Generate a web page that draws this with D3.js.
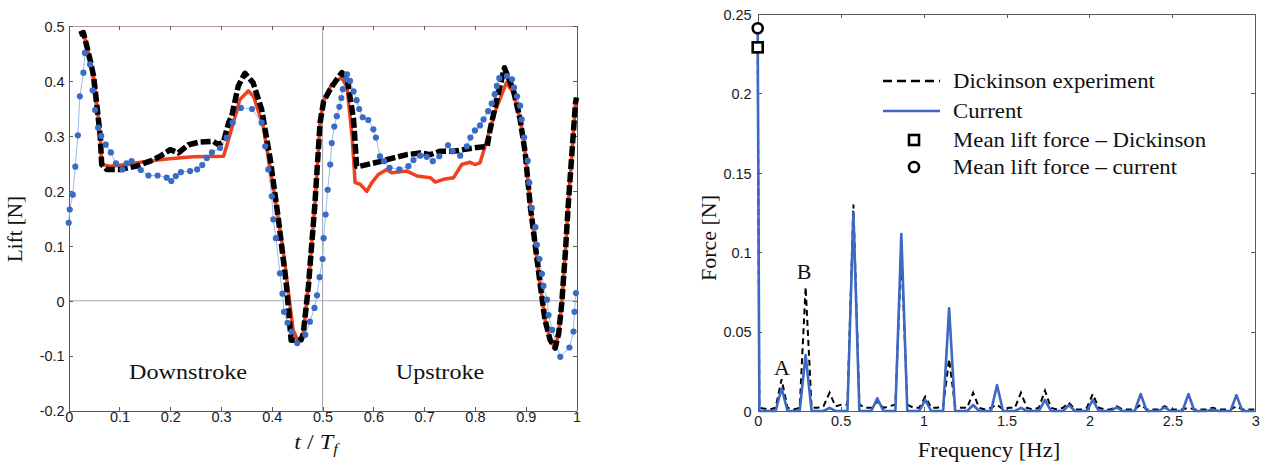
<!DOCTYPE html>
<html lang="en">
	<head>
		<meta charset="utf-8">
		<title>Lift history and spectrum</title>
		<script type="text/javascript" src="https://cdn.jsdelivr.net/npm/d3@7"></script>
		<style type="text/css">
			body { margin: 0; background: #fff; }
			.axis path, .axis line { fill: none; stroke: #5a5a5a; stroke-width: 1; shape-rendering: crispEdges; }
			.axis text { font-family: "Liberation Sans", Arial, sans-serif; font-size: 14.5px; fill: #1a1a1a; }
			.title { font-family: "Liberation Serif", "Times New Roman", serif; fill: #111; }
		</style>
	</head>
	<body>
		<script type="text/javascript">

			//Left chart: lift over one wing beat (t / Tf, N)
			var liftDashed = [
				[0.021,0.485],[0.029,0.488],[0.042,0.439],[0.049,0.409],[0.055,0.36],[0.062,0.30],[0.065,0.248],
				[0.075,0.239],[0.101,0.239],[0.134,0.245],[0.160,0.254],[0.180,0.263],[0.200,0.275],[0.216,0.269],
				[0.236,0.284],[0.259,0.289],[0.285,0.290],[0.295,0.284],[0.305,0.290],[0.315,0.324],[0.321,0.336],
				[0.334,0.391],[0.347,0.414],[0.363,0.397],[0.380,0.348],[0.397,0.257],[0.413,0.148],[0.429,0.026],
				[0.438,-0.072],[0.458,-0.071],[0.462,-0.059],[0.472,0.026],[0.485,0.178],[0.495,0.324],[0.502,0.363],
				[0.515,0.385],[0.528,0.403],[0.538,0.415],[0.548,0.406],[0.561,0.33],[0.567,0.245],[0.574,0.245],
				[0.607,0.252],[0.640,0.260],[0.666,0.266],[0.692,0.269],[0.712,0.266],[0.731,0.272],[0.758,0.272],
				[0.777,0.275],[0.804,0.279],[0.824,0.281],[0.830,0.312],[0.843,0.366],[0.858,0.424],[0.876,0.382],
				[0.889,0.330],[0.899,0.269],[0.909,0.172],[0.919,0.099],[0.929,0.026],[0.938,-0.035],[0.948,-0.071],
				[0.958,-0.086],[0.965,-0.059],[0.971,-0.004],[0.978,0.087],[0.984,0.178],[0.991,0.269],[0.998,0.360],
				[1.000,0.370]
			];

			var liftRed = [
				[0.021,0.485],[0.029,0.488],[0.042,0.439],[0.049,0.409],[0.055,0.36],[0.062,0.30],[0.065,0.248],
				[0.081,0.245],[0.114,0.248],[0.154,0.254],[0.193,0.258],[0.245,0.262],[0.305,0.263],[0.315,0.294],
				[0.337,0.366],[0.354,0.382],[0.364,0.372],[0.383,0.318],[0.403,0.208],[0.423,0.087],[0.442,-0.053],
				[0.452,-0.074],[0.458,-0.071],[0.462,-0.059],[0.472,0.026],[0.485,0.178],[0.495,0.324],[0.502,0.363],
				[0.518,0.394],[0.537,0.406],[0.548,0.39],[0.558,0.30],[0.564,0.215],[0.574,0.212],[0.587,0.199],
				[0.597,0.215],[0.610,0.230],[0.626,0.239],[0.636,0.233],[0.666,0.236],[0.686,0.227],[0.712,0.224],
				[0.722,0.216],[0.738,0.221],[0.758,0.224],[0.774,0.248],[0.790,0.252],[0.800,0.248],[0.810,0.251],
				[0.817,0.272],[0.840,0.345],[0.862,0.397],[0.876,0.378],[0.889,0.330],[0.899,0.269],[0.909,0.172],
				[0.919,0.099],[0.929,0.026],[0.938,-0.035],[0.948,-0.071],[0.958,-0.086],[0.965,-0.059],[0.971,-0.004],
				[0.978,0.087],[0.984,0.178],[0.991,0.269],[0.998,0.360],[1.000,0.370]
			];

			var liftDots = [
				[0.000,0.142],[0.002,0.166],[0.008,0.193],[0.013,0.244],[0.018,0.301],[0.022,0.372],[0.029,0.415],
				[0.032,0.451],[0.042,0.430],[0.047,0.383],[0.052,0.347],[0.058,0.315],[0.064,0.300],[0.073,0.284],
				[0.083,0.270],[0.093,0.250],[0.106,0.239],[0.114,0.250],[0.124,0.254],[0.142,0.238],[0.157,0.228],
				[0.175,0.228],[0.193,0.224],[0.202,0.218],[0.211,0.227],[0.221,0.234],[0.239,0.236],[0.253,0.239],
				[0.263,0.247],[0.272,0.260],[0.282,0.270],[0.298,0.278],[0.311,0.297],[0.323,0.324],[0.339,0.351],
				[0.361,0.349],[0.380,0.324],[0.387,0.281],[0.393,0.239],[0.400,0.190],[0.403,0.148],[0.408,0.114],
				[0.416,0.050],[0.421,0.013],[0.424,-0.020],[0.431,-0.040],[0.439,-0.056],[0.450,-0.077],[0.466,-0.062],
				[0.475,-0.038],[0.484,-0.013],[0.489,0.010],[0.494,0.043],[0.500,0.076],[0.502,0.114],[0.506,0.157],
				[0.510,0.202],[0.515,0.248],[0.518,0.287],[0.523,0.317],[0.528,0.336],[0.533,0.353],[0.537,0.369],
				[0.540,0.385],[0.546,0.403],[0.548,0.412],[0.554,0.400],[0.561,0.381],[0.567,0.365],[0.572,0.349],
				[0.579,0.334],[0.590,0.329],[0.600,0.312],[0.605,0.297],[0.613,0.263],[0.621,0.254],[0.632,0.242],
				[0.651,0.239],[0.669,0.245],[0.679,0.256],[0.692,0.264],[0.705,0.262],[0.717,0.254],[0.730,0.263],
				[0.747,0.283],[0.756,0.272],[0.771,0.264],[0.784,0.281],[0.791,0.297],[0.800,0.310],[0.810,0.319],
				[0.817,0.330],[0.826,0.345],[0.833,0.359],[0.839,0.376],[0.843,0.391],[0.848,0.405],[0.863,0.409],
				[0.873,0.403],[0.877,0.388],[0.883,0.372],[0.889,0.355],[0.892,0.330],[0.897,0.297],[0.904,0.255],
				[0.907,0.215],[0.912,0.169],[0.919,0.134],[0.922,0.102],[0.927,0.076],[0.932,0.049],[0.935,0.027],
				[0.942,0.002],[0.945,-0.026],[0.952,-0.053],[0.968,-0.102],[0.986,-0.085],[0.994,-0.056],[0.996,-0.020],
				[0.999,0.014]
			];

			var liftTicksX = [0, 0.1, 0.2, 0.3, 0.4, 0.5, 0.6, 0.7, 0.8, 0.9, 1];
			var liftTicksY = [-0.2, -0.1, 0, 0.1, 0.2, 0.3, 0.4, 0.5];

			//Right chart: spectrum (Hz, N)
			var specFreq = [
				0, 0.010, 0.072, 0.108, 0.144, 0.180, 0.216, 0.253, 0.289, 0.325, 0.361, 0.397, 0.433, 0.469,
				0.505, 0.541, 0.577, 0.613, 0.649, 0.685, 0.721, 0.758, 0.794, 0.830, 0.866, 0.902, 0.938, 0.974,
				1.010, 1.046, 1.082, 1.118, 1.154, 1.190, 1.227, 1.263, 1.299, 1.335, 1.371, 1.407, 1.443, 1.479,
				1.515, 1.551, 1.587, 1.623, 1.659, 1.695, 1.732, 1.768, 1.804, 1.840, 1.876, 1.912, 1.948, 1.984,
				2.020, 2.056, 2.092, 2.128, 2.164, 2.200, 2.237, 2.273, 2.309, 2.345, 2.381, 2.417, 2.453, 2.489,
				2.525, 2.561, 2.597, 2.633, 2.669, 2.705, 2.742, 2.778, 2.814, 2.850, 2.886, 2.922, 2.958, 2.994
			];
			var specDickinson = [
				0.228, 0.002, 0.001, 0.002, 0.020, 0.002, 0.001, 0.002, 0.078, 0.002, 0.002, 0.003, 0.0115, 0.003,
				0.004, 0.004, 0.130, 0.004, 0.002, 0.002, 0.006, 0.002, 0.003, 0.004, 0.100, 0.004, 0.002, 0.002,
				0.009, 0.002, 0.002, 0.003, 0.0326, 0.003, 0.002, 0.002, 0.0115, 0.002, 0.001, 0.002, 0.004, 0.001,
				0.002, 0.002, 0.0115, 0.002, 0.001, 0.002, 0.0128, 0.002, 0.001, 0.002, 0.0052, 0.001, 0.001, 0.002,
				0.0107, 0.002, 0.001, 0.001, 0.003, 0.001, 0.001, 0.001, 0.004, 0.001, 0.001, 0.001, 0.003, 0.001,
				0.001, 0.001, 0.002, 0.001, 0.001, 0.001, 0.002, 0.001, 0.001, 0.001, 0.003, 0.001, 0.001, 0.001
			];
			var specCurrent = [
				0.240, 0, 0, 0, 0.0143, 0, 0, 0, 0.0353, 0, 0, 0, 0.002, 0,
				0, 0, 0.125, 0, 0, 0, 0.008, 0, 0, 0, 0.1115, 0, 0, 0,
				0.007, 0, 0, 0, 0.0647, 0, 0, 0, 0.0038, 0, 0, 0, 0.0164, 0,
				0, 0, 0.002, 0, 0, 0, 0.007, 0, 0, 0, 0.0038, 0, 0, 0,
				0.007, 0, 0, 0, 0.0023, 0, 0, 0, 0.0107, 0, 0, 0, 0.0023, 0,
				0, 0, 0.0107, 0, 0, 0, 0.001, 0, 0, 0, 0.010, 0, 0, 0
			];
			var meanLift = [0.229, 0.241];		//Dickinson, current
			var specTicksX = [0, 0.5, 1, 1.5, 2, 2.5, 3];
			var specTicksY = [0, 0.05, 0.1, 0.15, 0.2, 0.25];
			var legendNames = ["Dickinson experiment", "Current", "Mean lift force \u2013 Dickinson", "Mean lift force \u2013 current"];

			var w = 1264;
			var h = 464;

			var svg = d3.select("body")
						.append("svg")
						.attr("width", w)
						.attr("height", h);

			svg.append("rect").attr("width", w).attr("height", h).attr("fill", "#fff");

			function serifText(x, y, txt, size, sx, anchor) {
				return svg.append("text")
					.attr("class", "title")
					.attr("transform", "translate(" + x + "," + y + ") scale(" + sx + ",1)")
					.attr("text-anchor", anchor || "start")
					.attr("font-size", size + "px")
					.text(txt);
			}

			// ---------------- left chart ----------------
			var xL = d3.scaleLinear().domain([0, 1]).range([68.7, 576.5]);
			var yL = d3.scaleLinear().domain([-0.2, 0.5]).range([410.7, 26]);

			//reference lines
			svg.append("line")
				.attr("x1", xL(0)).attr("x2", xL(1))
				.attr("y1", yL(0)).attr("y2", yL(0))
				.attr("stroke", "#a4abb5").attr("stroke-width", 1);
			svg.append("line")
				.attr("x1", xL(0.5)).attr("x2", xL(0.5))
				.attr("y1", yL(0.5)).attr("y2", yL(-0.2))
				.attr("stroke", "#9aa3b0").attr("stroke-width", 1);

			svg.append("g").attr("class", "axis")
				.attr("transform", "translate(0," + yL(-0.2) + ")")
				.call(d3.axisBottom(xL).tickValues(liftTicksX).tickSize(-4).tickSizeOuter(0).tickPadding(6)
					.tickFormat(function(d) { return String(d); }));
			svg.append("g").attr("class", "axis top-l")
				.attr("transform", "translate(0," + yL(0.5) + ")")
				.call(d3.axisTop(xL).tickValues(liftTicksX).tickSize(-4).tickSizeOuter(0).tickFormat(""));
			svg.select(".top-l path").style("stroke", "#b89a9a");
			svg.append("g").attr("class", "axis")
				.attr("transform", "translate(" + xL(0) + ",0)")
				.call(d3.axisLeft(yL).tickValues(liftTicksY).tickSize(-4).tickSizeOuter(0).tickPadding(4)
					.tickFormat(function(d) { return String(d); }));
			svg.append("g").attr("class", "axis")
				.attr("transform", "translate(" + xL(1) + ",0)")
				.call(d3.axisRight(yL).tickValues(liftTicksY).tickSize(-4).tickSizeOuter(0).tickFormat(""));
			svg.selectAll(".axis text").attr("dy", "0.36em");

			var lineL = d3.line()
				.x(function(d) { return xL(d[0]); })
				.y(function(d) { return yL(d[1]); });

			svg.append("path").datum(liftDots)
				.attr("d", lineL).attr("fill", "none")
				.attr("stroke", "#9cb8ea").attr("stroke-width", 1);

			svg.append("path").datum(liftRed)
				.attr("d", lineL).attr("fill", "none")
				.attr("stroke", "#f0401e").attr("stroke-width", 3.5)
				.attr("stroke-linejoin", "round");

			svg.append("path").datum(liftDashed)
				.attr("d", lineL).attr("fill", "none")
				.attr("stroke", "#000").attr("stroke-width", 5.5)
				.attr("stroke-dasharray", "10,3")
				.attr("stroke-linejoin", "round");

			svg.selectAll("circle.dot")
				.data(liftDots)
				.enter()
				.append("circle")
				.attr("class", "dot")
				.attr("cx", function(d) { return xL(d[0]); })
				.attr("cy", function(d) { return yL(d[1]); })
				.attr("r", 3.1)
				.attr("fill", "#3a6cc6");

			serifText(188, 379, "Downstroke", 21, 1.15, "middle");
			serifText(440, 379, "Upstroke", 21, 1.15, "middle");

			svg.append("text")
				.attr("class", "title")
				.attr("transform", "translate(22,229) rotate(-90)")
				.attr("text-anchor", "middle")
				.attr("font-size", "21px")
				.text("Lift [N]");

			var tLabel = svg.append("text")
				.attr("class", "title")
				.attr("transform", "translate(316,449) scale(1.1,1)")
				.attr("text-anchor", "middle")
				.attr("font-size", "22px");
			tLabel.append("tspan").attr("font-style", "italic").text("t");
			tLabel.append("tspan").text(" / ");
			tLabel.append("tspan").attr("font-style", "italic").text("T");
			tLabel.append("tspan").attr("font-style", "italic").attr("font-size", "15px").attr("dy", 5).text("f");

			// ---------------- right chart ----------------
			var xR = d3.scaleLinear().domain([0, 3]).range([757.7, 1255.3]);
			var yR = d3.scaleLinear().domain([0, 0.25]).range([411, 14]);

			svg.append("g").attr("class", "axis")
				.attr("transform", "translate(0," + yR(0) + ")")
				.call(d3.axisBottom(xR).tickValues(specTicksX).tickSize(-4).tickSizeOuter(0).tickPadding(10)
					.tickFormat(function(d) { return String(d); }));
			svg.append("g").attr("class", "axis")
				.attr("transform", "translate(0," + yR(0.25) + ")")
				.call(d3.axisTop(xR).tickValues(specTicksX).tickSize(-4).tickSizeOuter(0).tickFormat(""));
			svg.append("g").attr("class", "axis spec-y")
				.attr("transform", "translate(" + xR(0) + ",0)")
				.call(d3.axisLeft(yR).tickValues(specTicksY).tickSize(-4).tickSizeOuter(0).tickPadding(6)
					.tickFormat(function(d) { return String(d); }));
			svg.append("g").attr("class", "axis")
				.attr("transform", "translate(" + xR(3) + ",0)")
				.call(d3.axisRight(yR).tickValues(specTicksY).tickSize(-4).tickSizeOuter(0).tickFormat(""));
			svg.selectAll(".axis text").attr("dy", "0.36em");

			var lineR = d3.line()
				.x(function(d, i) { return xR(specFreq[i]); })
				.y(function(d) { return yR(d); });

			svg.append("path").datum(specDickinson)
				.attr("d", lineR).attr("fill", "none")
				.attr("stroke", "#000").attr("stroke-width", 2)
				.attr("stroke-dasharray", "6,4");

			svg.append("path").datum(specCurrent)
				.attr("d", lineR).attr("fill", "none")
				.attr("stroke", "#3d69c2").attr("stroke-width", 2.6)
				.attr("stroke-linejoin", "round");

			//mean lift markers
			svg.append("rect")
				.attr("x", xR(0) - 5).attr("y", yR(meanLift[0]) - 5)
				.attr("width", 10).attr("height", 10)
				.attr("fill", "#fff").attr("stroke", "#000").attr("stroke-width", 2.6);
			svg.append("circle")
				.attr("cx", xR(0)).attr("cy", yR(meanLift[1]))
				.attr("r", 5).attr("fill", "#fff").attr("stroke", "#000").attr("stroke-width", 2.6);

			//legend
			var legX = 883, legY = [81, 111, 140, 167];
			svg.append("line").attr("x1", legX).attr("x2", legX + 57).attr("y1", legY[0]).attr("y2", legY[0])
				.attr("stroke", "#000").attr("stroke-width", 2.5).attr("stroke-dasharray", "9,5");
			svg.append("line").attr("x1", legX).attr("x2", legX + 57).attr("y1", legY[1]).attr("y2", legY[1])
				.attr("stroke", "#3d69c2").attr("stroke-width", 2.6);
			svg.append("rect").attr("x", legX + 26).attr("y", legY[2] - 5).attr("width", 10).attr("height", 10)
				.attr("fill", "#fff").attr("stroke", "#000").attr("stroke-width", 2.6);
			svg.append("circle").attr("cx", legX + 31).attr("cy", legY[3]).attr("r", 5)
				.attr("fill", "#fff").attr("stroke", "#000").attr("stroke-width", 2.6);
			legendNames.forEach(function(name, i) {
				serifText(953, legY[i] + 7, name, 20, 1.14, "start");
			});

			//annotations
			serifText(782, 375, "A", 20, 1.1, "middle");
			serifText(804, 279, "B", 20, 1.1, "middle");

			svg.append("text")
				.attr("class", "title")
				.attr("transform", "translate(716,238) rotate(-90)")
				.attr("text-anchor", "middle")
				.attr("font-size", "22px")
				.text("Force [N]");

			serifText(989, 457, "Frequency [Hz]", 20, 1.13, "middle");

		</script>
	</body>
</html>
